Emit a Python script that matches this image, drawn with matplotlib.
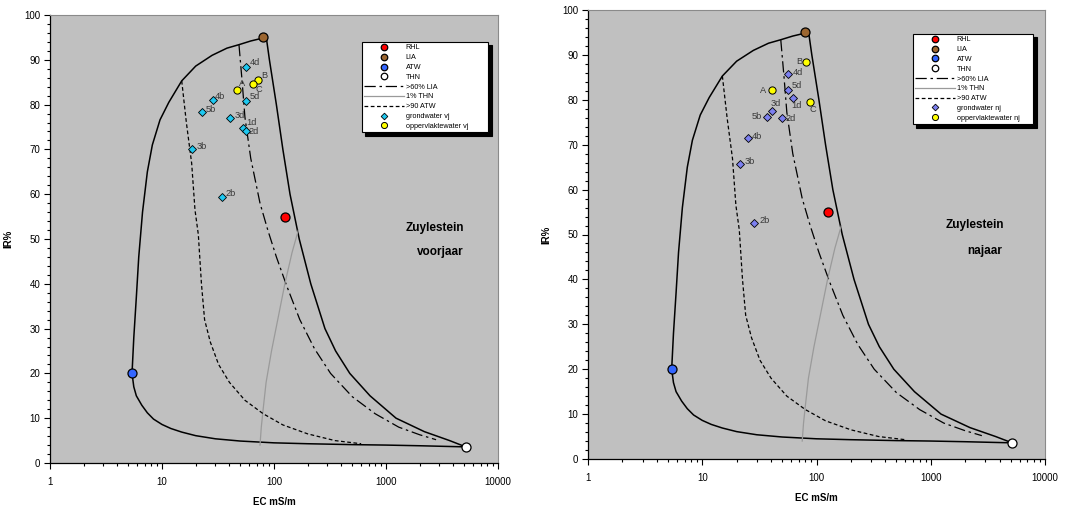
import matplotlib
matplotlib.use('Agg')
import matplotlib.pyplot as plt
from matplotlib.ticker import LogLocator, MultipleLocator, FixedLocator, FixedFormatter, NullFormatter

plt.rcParams['font.family'] = ['Liberation Sans', 'DejaVu Sans']

# ---------------- data ----------------
ref_names = ['RHL', 'LIA', 'ATW', 'THN']
ref_ec = [125, 80, 5.4, 5150]
ref_ir = [55, 95, 20, 3.6]

# outer mixing envelope
atw_lia_ec = [5.4, 5.6, 5.9, 6.2, 6.7, 7.4, 8.2, 9.6, 11.5, 15, 20, 28, 38, 49, 62, 75, 80]
atw_lia_ir = [20, 28, 37, 46, 56, 65, 71, 76.6, 80.5, 85.3, 88.6, 91, 92.6, 93.4, 94.2, 94.7, 95]
atw_thn_ec = [5.4, 5.6, 5.9, 6.6, 7.4, 8.4, 10, 12, 15, 20, 30, 50, 100, 200, 500, 1000, 2000, 3500, 5150]
atw_thn_ir = [20, 17, 15, 12.9, 11.2, 9.8, 8.6, 7.7, 6.9, 6.1, 5.4, 4.9, 4.5, 4.3, 4.1, 4.0, 3.85, 3.7, 3.6]
lia_thn_ec = [80, 86, 91, 105, 120, 139, 168, 213, 285, 355, 475, 720, 1230, 2200, 3700, 5150]
lia_thn_ir = [95, 94.4, 90, 80, 70, 60, 50, 40, 30, 25, 20, 15, 10, 7, 5, 3.6]

# >60% LIA
lia60_ec = [48.7, 52, 55, 62, 75, 88, 105, 130, 170, 230, 320, 500, 800, 1300, 2000, 2800]
lia60_ir = [93.3, 85, 77.2, 68, 58, 52, 46, 39.5, 32, 25.5, 20, 14.8, 11, 8, 6.3, 5.2]
# 1% THN
thn1_ec = [75, 77, 80, 85, 95, 110, 125, 145, 165]
thn1_ir = [4, 8, 12, 18, 25, 33, 40, 47, 52]
# >90 ATW
atw90_ec = [15, 16.5, 18.4, 19.7, 21.1, 22.5, 24, 27, 32, 40, 55, 80, 120, 200, 350, 600]
atw90_ir = [85.3, 76, 66.9, 56.5, 51, 40, 32, 27, 22, 18, 14, 11, 8.5, 6.5, 5, 4.3]

# voorjaar
gw_vj_labels = ['4d', '5d', '3d', '1d', '2d', '4b', '5b', '3b', '2b']
gw_vj_ec = [56, 55.9, 40.7, 52.9, 56, 28.5, 22.8, 18.7, 34.3]
gw_vj_ir = [88.5, 80.9, 76.9, 74.8, 74.1, 81, 78.3, 70.0, 59.4]
ow_vj_labels = ['A', 'B', 'C']
ow_vj_ec = [46.4, 71.5, 65.3]
ow_vj_ir = [83.2, 85.5, 84.7]

# najaar
gw_nj_labels = ['4d', '5d', '1d', '3d', '5b', '2d', '4b', '3b', '2b']
gw_nj_ec = [56, 56, 62.7, 40.5, 36.9, 49.6, 25, 21.5, 28.4]
gw_nj_ir = [85.7, 82.2, 80.5, 77.5, 76.2, 76.0, 71.6, 65.8, 52.6]
ow_nj_labels = ['A', 'B', 'C']
ow_nj_ec = [41, 81.4, 87.3]
ow_nj_ir = [82.1, 88.4, 79.4]

x_ticks = [1, 10, 100, 1000, 10000]
x_ticklabels = ['1', '10', '100', '1000', '10000']

# ---------------- styles ----------------
ref_colors = ['#ff0000', '#9c6630', '#3366ff', '#ffffff']
gw_vj_color = '#1ec8f0'
gw_nj_color = '#7c80f0'
ow_color = '#ffff00'
label_color = '#3a3a3a'

# label offsets in pixels (dx, dy up-positive, ha)
off_vj = {'4d': (4, 4, 'left'), '5d': (4, 4, 'left'), '3d': (4, 3, 'left'), '1d': (3, 5, 'left'),
          '2d': (3, 0, 'left'), '4b': (2, 4, 'left'), '5b': (4, 3, 'left'), '3b': (4, 3, 'left'),
          '2b': (4, 3, 'left')}
off_ow_vj = {'A': (2, 7, 'left'), 'B': (4, 4, 'left'), 'C': (2, -6, 'left')}
off_nj = {'4d': (5, 2, 'left'), '5d': (4, 4, 'left'), '1d': (-2, -8, 'left'), '3d': (-1, 8, 'left'),
          '5b': (-5, 0, 'right'), '2d': (4, -1, 'left'), '4b': (4, 1, 'left'), '3b': (4, 2, 'left'),
          '2b': (5, 2, 'left')}
off_ow_nj = {'A': (-6, 0, 'right'), 'B': (-4, 1, 'right'), 'C': (0, -7, 'left')}

W, H = 1087, 505
fig = plt.figure(figsize=(W / 100, H / 100), dpi=100)
fig.patch.set_facecolor('white')

PX2PT = 0.72


def panel(rect, gw_ec, gw_ir, gw_lab, gw_off, gw_col, gw_name,
          ow_ec, ow_ir, ow_lab, ow_off, ow_name, season, txt_pos, leg_box):
    ax = fig.add_axes(rect)
    ax.set_facecolor('#c0c0c0')
    ax.set_xscale('log')
    ax.set_xlim(1, 10000)
    ax.set_ylim(0, 100)

    kw = dict(color='black', lw=1.1, zorder=2)
    ax.plot(atw_lia_ec, atw_lia_ir, **kw)
    ax.plot(atw_thn_ec, atw_thn_ir, **kw)
    ax.plot(lia_thn_ec, lia_thn_ir, **kw)
    l60, = ax.plot(lia60_ec, lia60_ir, color='black', lw=0.9, dashes=(9, 3, 2, 3), zorder=2)
    l1, = ax.plot(thn1_ec, thn1_ir, color='#9a9a9a', lw=0.9, zorder=2)
    l90, = ax.plot(atw90_ec, atw90_ir, color='black', lw=0.9, dashes=(3, 2), zorder=2)

    ref_handles = []
    for n, e, i, c in zip(ref_names, ref_ec, ref_ir, ref_colors):
        h, = ax.plot([e], [i], 'o', ms=6.5, mfc=c, mec='black', mew=0.9, zorder=5, clip_on=False)
        ref_handles.append(h)

    hg, = ax.plot(gw_ec, gw_ir, 'D', ms=3.6, mfc=gw_col, mec='black', mew=0.6, ls='none', zorder=5)
    ho, = ax.plot(ow_ec, ow_ir, 'o', ms=5.2, mfc=ow_color, mec='black', mew=0.7, ls='none', zorder=5)

    for e, i, lab in zip(gw_ec, gw_ir, gw_lab):
        dx, dy, ha = gw_off[lab]
        ax.annotate(lab, (e, i), xytext=(dx * PX2PT, dy * PX2PT), textcoords='offset points',
                    ha=ha, va='center', fontsize=6.7, color=label_color, zorder=6)
    for e, i, lab in zip(ow_ec, ow_ir, ow_lab):
        dx, dy, ha = ow_off[lab]
        ax.annotate(lab, (e, i), xytext=(dx * PX2PT, dy * PX2PT), textcoords='offset points',
                    ha=ha, va='center', fontsize=6.7, color=label_color, zorder=6)

    ax.text(txt_pos[0], txt_pos[1], 'Zuylestein', transform=ax.transAxes, ha='center', va='center',
            fontsize=8.5, fontweight='bold')
    ax.text(txt_pos[2], txt_pos[3], season, transform=ax.transAxes, ha='center', va='center',
            fontsize=8.5, fontweight='bold')

    # axes styling
    ax.xaxis.set_major_locator(FixedLocator(x_ticks))
    ax.xaxis.set_major_formatter(FixedFormatter(x_ticklabels))
    ax.xaxis.set_minor_locator(LogLocator(base=10, subs=range(2, 10), numticks=20))
    ax.xaxis.set_minor_formatter(NullFormatter())
    ax.yaxis.set_major_locator(MultipleLocator(10))
    ax.yaxis.set_minor_locator(MultipleLocator(2))
    ax.tick_params(which='major', direction='out', length=4, width=0.8, labelsize=7, pad=6)
    ax.tick_params(which='minor', direction='out', length=2.5, width=0.8)
    ax.tick_params(axis='y', which='major', pad=3)
    for s in ('left', 'bottom'):
        ax.spines[s].set_color('black')
        ax.spines[s].set_linewidth(0.9)
    for s in ('top', 'right'):
        ax.spines[s].set_color('#8a8a8a')
        ax.spines[s].set_linewidth(0.8)
    ax.set_xlabel('EC mS/m', fontsize=7, fontweight='bold', labelpad=7)
    ax.set_ylabel('IR%', fontsize=7, fontweight='bold', labelpad=8)

    handles = ref_handles + [l60, l1, l90, hg, ho]
    labels = ref_names + ['>60% LIA', '1% THN', '>90 ATW', gw_name, ow_name]
    leg = ax.legend(handles, labels, loc='upper left', bbox_to_anchor=leg_box, mode='expand',
                    fontsize=5.2, frameon=True, fancybox=False, edgecolor='black', framealpha=1,
                    handlelength=5.5, handletextpad=0.2, labelspacing=0.38, borderpad=0.35,
                    borderaxespad=0, markerscale=0.72,
                    shadow={'color': 'black', 'alpha': 1, 'ox': 2.5, 'oy': -2.5})
    leg.get_frame().set_linewidth(0.8)
    leg.set_zorder(10)
    lh = leg.legend_handles
    lh[7].set_markersize(3.4)
    lh[8].set_markersize(4.4)
    return ax


ax1 = panel([50 / W, (H - 463) / H, 448 / W, 448 / H],
            gw_vj_ec, gw_vj_ir, gw_vj_labels, off_vj, gw_vj_color, 'grondwater vj',
            ow_vj_ec, ow_vj_ir, ow_vj_labels, off_ow_vj, 'oppervlaktewater vj',
            'voorjaar', (0.86, 0.525, 0.872, 0.47), (0.696, 0.74, 0.282, 0.2))
ax2 = panel([588 / W, (H - 459) / H, 457 / W, 449 / H],
            gw_nj_ec, gw_nj_ir, gw_nj_labels, off_nj, gw_nj_color, 'grondwater nj',
            ow_nj_ec, ow_nj_ir, ow_nj_labels, off_ow_nj, 'oppervlaktewater nj',
            'najaar', (0.847, 0.521, 0.869, 0.463), (0.711, 0.747, 0.263, 0.2))

fig.savefig('out.png', dpi=100)
